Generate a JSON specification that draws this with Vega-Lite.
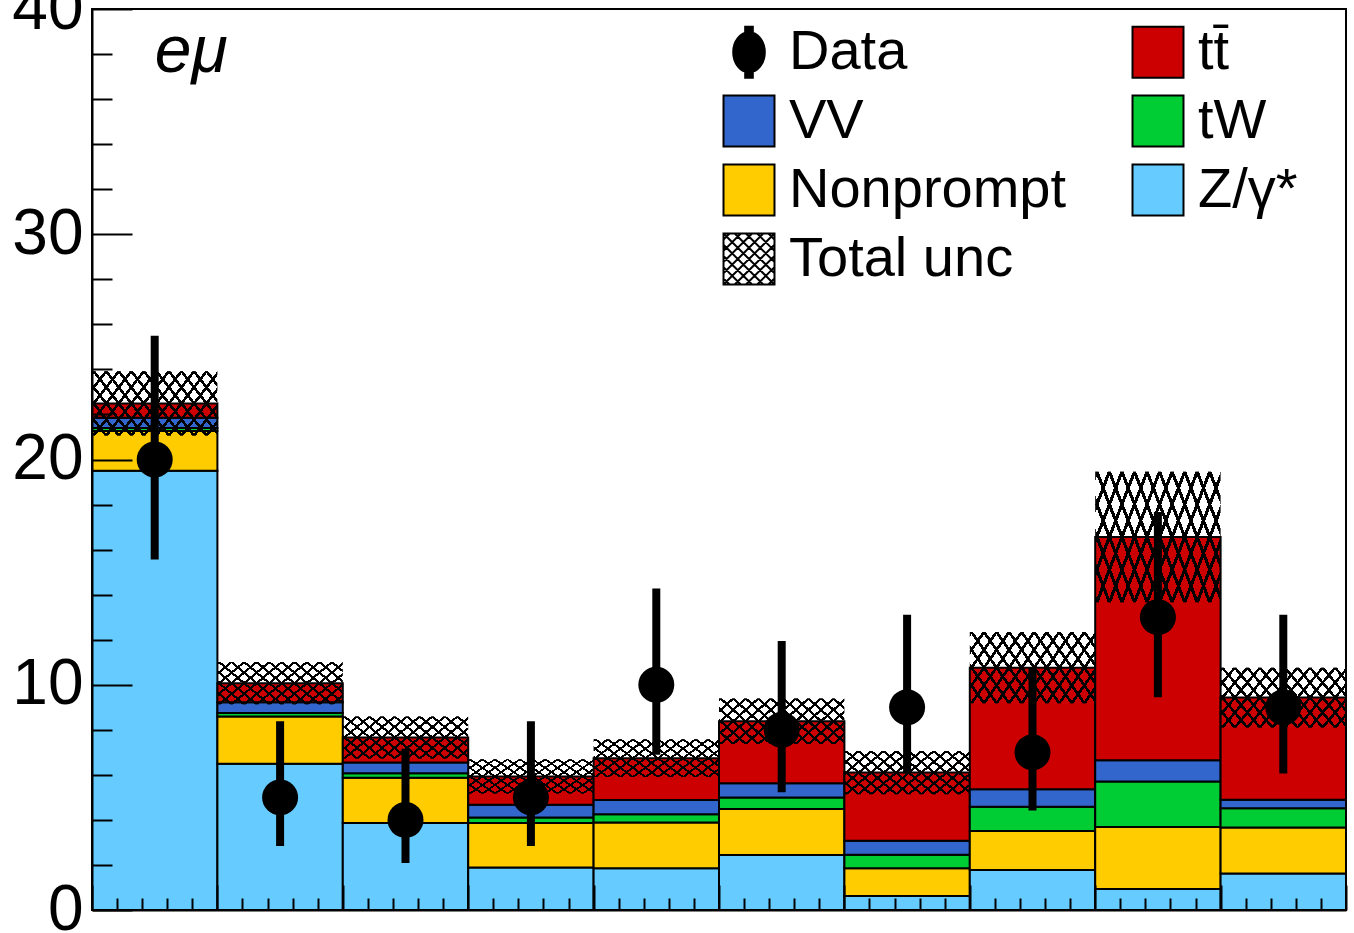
{
  "$schema": "https://vega.github.io/schema/vega-lite/v6.json",
  "width": 1254,
  "height": 901,
  "autosize": {"type": "none"},
  "padding": {"left": 92, "top": 9, "right": 8, "bottom": 23},
  "background": "white",
  "datasets": {
    "bkg": [
      {"lo": 0.0, "hi": 0.1, "process": "Z/γ*", "value": 19.5},
      {"lo": 0.0, "hi": 0.1, "process": "Nonprompt", "value": 1.76},
      {"lo": 0.0, "hi": 0.1, "process": "tW", "value": 0.14},
      {"lo": 0.0, "hi": 0.1, "process": "VV", "value": 0.45},
      {"lo": 0.0, "hi": 0.1, "process": "tt̄", "value": 0.64},
      {"lo": 0.1, "hi": 0.2, "process": "Z/γ*", "value": 6.49},
      {"lo": 0.1, "hi": 0.2, "process": "Nonprompt", "value": 2.1},
      {"lo": 0.1, "hi": 0.2, "process": "tW", "value": 0.16},
      {"lo": 0.1, "hi": 0.2, "process": "VV", "value": 0.47},
      {"lo": 0.1, "hi": 0.2, "process": "tt̄", "value": 0.85},
      {"lo": 0.2, "hi": 0.3, "process": "Z/γ*", "value": 3.86},
      {"lo": 0.2, "hi": 0.3, "process": "Nonprompt", "value": 2.01},
      {"lo": 0.2, "hi": 0.3, "process": "tW", "value": 0.2},
      {"lo": 0.2, "hi": 0.3, "process": "VV", "value": 0.48},
      {"lo": 0.2, "hi": 0.3, "process": "tt̄", "value": 1.11},
      {"lo": 0.3, "hi": 0.4, "process": "Z/γ*", "value": 1.89},
      {"lo": 0.3, "hi": 0.4, "process": "Nonprompt", "value": 1.97},
      {"lo": 0.3, "hi": 0.4, "process": "tW", "value": 0.25},
      {"lo": 0.3, "hi": 0.4, "process": "VV", "value": 0.56},
      {"lo": 0.3, "hi": 0.4, "process": "tt̄", "value": 1.26},
      {"lo": 0.4, "hi": 0.5, "process": "Z/γ*", "value": 1.85},
      {"lo": 0.4, "hi": 0.5, "process": "Nonprompt", "value": 2.04},
      {"lo": 0.4, "hi": 0.5, "process": "tW", "value": 0.36},
      {"lo": 0.4, "hi": 0.5, "process": "VV", "value": 0.63},
      {"lo": 0.4, "hi": 0.5, "process": "tt̄", "value": 1.86},
      {"lo": 0.5, "hi": 0.6, "process": "Z/γ*", "value": 2.44},
      {"lo": 0.5, "hi": 0.6, "process": "Nonprompt", "value": 2.04},
      {"lo": 0.5, "hi": 0.6, "process": "tW", "value": 0.52},
      {"lo": 0.5, "hi": 0.6, "process": "VV", "value": 0.63},
      {"lo": 0.5, "hi": 0.6, "process": "tt̄", "value": 2.75},
      {"lo": 0.6, "hi": 0.7, "process": "Z/γ*", "value": 0.62},
      {"lo": 0.6, "hi": 0.7, "process": "Nonprompt", "value": 1.23},
      {"lo": 0.6, "hi": 0.7, "process": "tW", "value": 0.6},
      {"lo": 0.6, "hi": 0.7, "process": "VV", "value": 0.62},
      {"lo": 0.6, "hi": 0.7, "process": "tt̄", "value": 3.03},
      {"lo": 0.7, "hi": 0.8, "process": "Z/γ*", "value": 1.78},
      {"lo": 0.7, "hi": 0.8, "process": "Nonprompt", "value": 1.73},
      {"lo": 0.7, "hi": 0.8, "process": "tW", "value": 1.07},
      {"lo": 0.7, "hi": 0.8, "process": "VV", "value": 0.78},
      {"lo": 0.7, "hi": 0.8, "process": "tt̄", "value": 5.4},
      {"lo": 0.8, "hi": 0.9, "process": "Z/γ*", "value": 0.93},
      {"lo": 0.8, "hi": 0.9, "process": "Nonprompt", "value": 2.76},
      {"lo": 0.8, "hi": 0.9, "process": "tW", "value": 2.01},
      {"lo": 0.8, "hi": 0.9, "process": "VV", "value": 0.95},
      {"lo": 0.8, "hi": 0.9, "process": "tt̄", "value": 9.91},
      {"lo": 0.9, "hi": 1.0, "process": "Z/γ*", "value": 1.62},
      {"lo": 0.9, "hi": 1.0, "process": "Nonprompt", "value": 2.04},
      {"lo": 0.9, "hi": 1.0, "process": "tW", "value": 0.86},
      {"lo": 0.9, "hi": 1.0, "process": "VV", "value": 0.37},
      {"lo": 0.9, "hi": 1.0, "process": "tt̄", "value": 4.54}
    ],
    "unc": [
      {"lo": 0.0, "hi": 0.1, "dn": 21.06, "up": 23.92},
      {"lo": 0.1, "hi": 0.2, "dn": 9.13, "up": 11.01},
      {"lo": 0.2, "hi": 0.3, "dn": 6.73, "up": 8.59},
      {"lo": 0.3, "hi": 0.4, "dn": 5.17, "up": 6.69},
      {"lo": 0.4, "hi": 0.5, "dn": 5.9, "up": 7.58},
      {"lo": 0.5, "hi": 0.6, "dn": 7.37, "up": 9.39},
      {"lo": 0.6, "hi": 0.7, "dn": 5.14, "up": 7.06},
      {"lo": 0.7, "hi": 0.8, "dn": 9.18, "up": 12.34},
      {"lo": 0.8, "hi": 0.9, "dn": 13.66, "up": 19.46},
      {"lo": 0.9, "hi": 1.0, "dn": 8.1, "up": 10.76}
    ],
    "obs": [
      {"x": 0.05, "n": 20, "lo": 15.56, "hi": 25.49},
      {"x": 0.15, "n": 5, "lo": 2.84, "hi": 8.38},
      {"x": 0.25, "n": 4, "lo": 2.09, "hi": 7.16},
      {"x": 0.35, "n": 5, "lo": 2.84, "hi": 8.38},
      {"x": 0.45, "n": 10, "lo": 6.89, "hi": 14.27},
      {"x": 0.55, "n": 8, "lo": 5.23, "hi": 11.94},
      {"x": 0.65, "n": 9, "lo": 6.06, "hi": 13.11},
      {"x": 0.75, "n": 7, "lo": 4.42, "hi": 10.77},
      {"x": 0.85, "n": 13, "lo": 9.45, "hi": 17.67},
      {"x": 0.95, "n": 9, "lo": 6.06, "hi": 13.11}
    ]
  },
  "layer": [
    {
      "data": {"name": "bkg"},
      "transform": [{"stack": "value", "groupby": ["lo"], "as": ["y0", "y1"]}],
      "mark": {"type": "rect", "stroke": "black", "strokeWidth": 2},
      "encoding": {
        "x": {"field": "lo", "type": "quantitative",
          "scale": {"domain": [0, 1], "nice": false, "zero": false},
          "axis": {"orient": "bottom", "values": [0, 0.1, 0.2, 0.3, 0.4, 0.5, 0.6, 0.7, 0.8, 0.9, 1], "tickSize": -25, "labels": false, "title": null, "zindex": 1}},
        "x2": {"field": "hi"},
        "y": {"field": "y1", "type": "quantitative",
          "scale": {"domain": [0, 40], "nice": false},
          "axis": {"orient": "left", "values": [0, 10, 20, 30, 40], "tickSize": -40, "labelPadding": 49, "labelFontSize": 64, "title": null, "zindex": 1}},
        "y2": {"field": "y0"},
        "color": {"field": "process", "type": "nominal",
          "scale": {"domain": ["Data", "VV", "Nonprompt", "Total unc", "tt̄", "tW", "Z/γ*"],
                    "range": ["#000000", "#3366cc", "#ffcc00", "#ffffff", "#cc0000", "#00cc33", "#66ccff"]},
          "legend": {
            "orient": "none", "legendX": 629, "legendY": 15, "columns": 2, "title": null,
            "symbolType": "square", "symbolSize": 2600, "symbolStrokeWidth": 2, "symbolStrokeColor": "black",
            "labelFont": "Liberation Sans", "labelFontSize": 56, "labelColor": "black", "labelOffset": 12, "labelLimit": 1000,
            "columnPadding": 61, "rowPadding": 9, "padding": 0,
            "encode": {"symbols": {"update": {"shape": [
              {"test": "datum.value === 'Data'", "value": "M-0.15,-1H0.15V1H-0.15Z M-0.62,0A0.62,0.78 0 1,1 0.62,0A0.62,0.78 0 1,1 -0.62,0Z"},
              {"test": "datum.value === 'Total unc'", "value": "M-1,-1H1V1H-1Z M-1,-0.76L-0.76,-1 M-1,-0.32L-0.32,-1 M-1,0.12L0.12,-1 M-1,0.56L0.56,-1 M-1,1L1,-1 M-0.56,1L1,-0.56 M-0.12,1L1,-0.12 M0.32,1L1,0.32 M0.76,1L1,0.76 M-1,-1L1,1 M-0.56,-1L1,0.56 M-0.12,-1L1,0.12 M0.32,-1L1,-0.32 M0.76,-1L1,-0.76 M-1,-0.56L0.56,1 M-1,-0.12L0.12,1 M-1,0.32L-0.32,1 M-1,0.76L-0.76,1"},
              {"value": "square"}
            ]}}}
          }}
      }
    },
    {
      "data": {"name": "unc"},
      "mark": {"type": "rect", "strokeWidth": 0, "fill": {"gradient": "linear", "x1": 0, "y1": 0, "x2": 1.207, "y2": 0.483, "stops": [
        {"offset": 0, "color": "#000"}, {"offset": 0.019, "color": "#000"}, {"offset": 0.019, "color": "rgba(0,0,0,0)"}, {"offset": 0.0714, "color": "rgba(0,0,0,0)"},
        {"offset": 0.0714, "color": "#000"}, {"offset": 0.0904, "color": "#000"}, {"offset": 0.0904, "color": "rgba(0,0,0,0)"}, {"offset": 0.1429, "color": "rgba(0,0,0,0)"},
        {"offset": 0.1429, "color": "#000"}, {"offset": 0.1619, "color": "#000"}, {"offset": 0.1619, "color": "rgba(0,0,0,0)"}, {"offset": 0.2143, "color": "rgba(0,0,0,0)"},
        {"offset": 0.2143, "color": "#000"}, {"offset": 0.2333, "color": "#000"}, {"offset": 0.2333, "color": "rgba(0,0,0,0)"}, {"offset": 0.2857, "color": "rgba(0,0,0,0)"},
        {"offset": 0.2857, "color": "#000"}, {"offset": 0.3047, "color": "#000"}, {"offset": 0.3047, "color": "rgba(0,0,0,0)"}, {"offset": 0.3571, "color": "rgba(0,0,0,0)"},
        {"offset": 0.3571, "color": "#000"}, {"offset": 0.3761, "color": "#000"}, {"offset": 0.3761, "color": "rgba(0,0,0,0)"}, {"offset": 0.4286, "color": "rgba(0,0,0,0)"},
        {"offset": 0.4286, "color": "#000"}, {"offset": 0.4476, "color": "#000"}, {"offset": 0.4476, "color": "rgba(0,0,0,0)"}, {"offset": 0.5, "color": "rgba(0,0,0,0)"},
        {"offset": 0.5, "color": "#000"}, {"offset": 0.519, "color": "#000"}, {"offset": 0.519, "color": "rgba(0,0,0,0)"}, {"offset": 0.5714, "color": "rgba(0,0,0,0)"},
        {"offset": 0.5714, "color": "#000"}, {"offset": 0.5904, "color": "#000"}, {"offset": 0.5904, "color": "rgba(0,0,0,0)"}, {"offset": 0.6429, "color": "rgba(0,0,0,0)"},
        {"offset": 0.6429, "color": "#000"}, {"offset": 0.6619, "color": "#000"}, {"offset": 0.6619, "color": "rgba(0,0,0,0)"}, {"offset": 0.7143, "color": "rgba(0,0,0,0)"},
        {"offset": 0.7143, "color": "#000"}, {"offset": 0.7333, "color": "#000"}, {"offset": 0.7333, "color": "rgba(0,0,0,0)"}, {"offset": 0.7857, "color": "rgba(0,0,0,0)"},
        {"offset": 0.7857, "color": "#000"}, {"offset": 0.8047, "color": "#000"}, {"offset": 0.8047, "color": "rgba(0,0,0,0)"}, {"offset": 0.8571, "color": "rgba(0,0,0,0)"},
        {"offset": 0.8571, "color": "#000"}, {"offset": 0.8761, "color": "#000"}, {"offset": 0.8761, "color": "rgba(0,0,0,0)"}, {"offset": 0.9286, "color": "rgba(0,0,0,0)"},
        {"offset": 0.9286, "color": "#000"}, {"offset": 0.9476, "color": "#000"}, {"offset": 0.9476, "color": "rgba(0,0,0,0)"}, {"offset": 1, "color": "rgba(0,0,0,0)"}
      ]}},
      "encoding": {
        "x": {"field": "lo", "type": "quantitative",
          "axis": {"orient": "bottom", "values": [0.02, 0.04, 0.06, 0.08, 0.12, 0.14, 0.16, 0.18, 0.22, 0.24, 0.26, 0.28, 0.32, 0.34, 0.36, 0.38, 0.42, 0.44, 0.46, 0.48, 0.52, 0.54, 0.56, 0.58, 0.62, 0.64, 0.66, 0.68, 0.72, 0.74, 0.76, 0.78, 0.82, 0.84, 0.86, 0.88, 0.92, 0.94, 0.96, 0.98], "tickSize": -12, "labels": false, "domain": false, "title": null, "zindex": 1}},
        "x2": {"field": "hi"},
        "y": {"field": "dn", "type": "quantitative",
          "axis": {"orient": "left", "values": [2, 4, 6, 8, 12, 14, 16, 18, 22, 24, 26, 28, 32, 34, 36, 38], "tickSize": -20, "labels": false, "domain": false, "title": null, "zindex": 1}},
        "y2": {"field": "up"}
      }
    },
    {
      "data": {"name": "unc"},
      "mark": {"type": "rect", "strokeWidth": 0, "fill": {"gradient": "linear", "x1": 0, "y1": 1, "x2": 1.207, "y2": 0.517, "stops": [
        {"offset": 0, "color": "#000"}, {"offset": 0.019, "color": "#000"}, {"offset": 0.019, "color": "rgba(0,0,0,0)"}, {"offset": 0.0714, "color": "rgba(0,0,0,0)"},
        {"offset": 0.0714, "color": "#000"}, {"offset": 0.0904, "color": "#000"}, {"offset": 0.0904, "color": "rgba(0,0,0,0)"}, {"offset": 0.1429, "color": "rgba(0,0,0,0)"},
        {"offset": 0.1429, "color": "#000"}, {"offset": 0.1619, "color": "#000"}, {"offset": 0.1619, "color": "rgba(0,0,0,0)"}, {"offset": 0.2143, "color": "rgba(0,0,0,0)"},
        {"offset": 0.2143, "color": "#000"}, {"offset": 0.2333, "color": "#000"}, {"offset": 0.2333, "color": "rgba(0,0,0,0)"}, {"offset": 0.2857, "color": "rgba(0,0,0,0)"},
        {"offset": 0.2857, "color": "#000"}, {"offset": 0.3047, "color": "#000"}, {"offset": 0.3047, "color": "rgba(0,0,0,0)"}, {"offset": 0.3571, "color": "rgba(0,0,0,0)"},
        {"offset": 0.3571, "color": "#000"}, {"offset": 0.3761, "color": "#000"}, {"offset": 0.3761, "color": "rgba(0,0,0,0)"}, {"offset": 0.4286, "color": "rgba(0,0,0,0)"},
        {"offset": 0.4286, "color": "#000"}, {"offset": 0.4476, "color": "#000"}, {"offset": 0.4476, "color": "rgba(0,0,0,0)"}, {"offset": 0.5, "color": "rgba(0,0,0,0)"},
        {"offset": 0.5, "color": "#000"}, {"offset": 0.519, "color": "#000"}, {"offset": 0.519, "color": "rgba(0,0,0,0)"}, {"offset": 0.5714, "color": "rgba(0,0,0,0)"},
        {"offset": 0.5714, "color": "#000"}, {"offset": 0.5904, "color": "#000"}, {"offset": 0.5904, "color": "rgba(0,0,0,0)"}, {"offset": 0.6429, "color": "rgba(0,0,0,0)"},
        {"offset": 0.6429, "color": "#000"}, {"offset": 0.6619, "color": "#000"}, {"offset": 0.6619, "color": "rgba(0,0,0,0)"}, {"offset": 0.7143, "color": "rgba(0,0,0,0)"},
        {"offset": 0.7143, "color": "#000"}, {"offset": 0.7333, "color": "#000"}, {"offset": 0.7333, "color": "rgba(0,0,0,0)"}, {"offset": 0.7857, "color": "rgba(0,0,0,0)"},
        {"offset": 0.7857, "color": "#000"}, {"offset": 0.8047, "color": "#000"}, {"offset": 0.8047, "color": "rgba(0,0,0,0)"}, {"offset": 0.8571, "color": "rgba(0,0,0,0)"},
        {"offset": 0.8571, "color": "#000"}, {"offset": 0.8761, "color": "#000"}, {"offset": 0.8761, "color": "rgba(0,0,0,0)"}, {"offset": 0.9286, "color": "rgba(0,0,0,0)"},
        {"offset": 0.9286, "color": "#000"}, {"offset": 0.9476, "color": "#000"}, {"offset": 0.9476, "color": "rgba(0,0,0,0)"}, {"offset": 1, "color": "rgba(0,0,0,0)"}
      ]}},
      "encoding": {
        "x": {"field": "lo", "type": "quantitative", "axis": null},
        "x2": {"field": "hi"},
        "y": {"field": "dn", "type": "quantitative", "axis": null},
        "y2": {"field": "up"}
      }
    },
    {
      "data": {"name": "obs"},
      "mark": {"type": "rule", "strokeWidth": 8, "color": "black"},
      "encoding": {
        "x": {"field": "x", "type": "quantitative", "axis": null},
        "y": {"field": "lo", "type": "quantitative", "axis": null},
        "y2": {"field": "hi"}
      }
    },
    {
      "data": {"name": "obs"},
      "mark": {"type": "point", "shape": "circle", "filled": true, "color": "black", "opacity": 1, "size": 1296},
      "encoding": {
        "x": {"field": "x", "type": "quantitative", "axis": null},
        "y": {"field": "n", "type": "quantitative", "axis": null}
      }
    },
    {
      "data": {"values": [{}]},
      "mark": {"type": "text", "text": "eμ", "font": "Liberation Sans", "fontStyle": "italic", "fontSize": 66, "align": "left", "baseline": "alphabetic", "color": "black"},
      "encoding": {
        "x": {"datum": 0.05, "type": "quantitative", "axis": null},
        "y": {"datum": 37.2, "type": "quantitative", "axis": null}
      }
    }
  ],
  "resolve": {"axis": {"x": "independent", "y": "independent"}},
  "config": {
    "view": {"stroke": "black", "strokeWidth": 2},
    "axis": {"domainColor": "black", "domainWidth": 2, "tickColor": "black", "tickWidth": 2, "grid": false,
             "labelFont": "Liberation Sans", "labelColor": "black"}
  }
}
